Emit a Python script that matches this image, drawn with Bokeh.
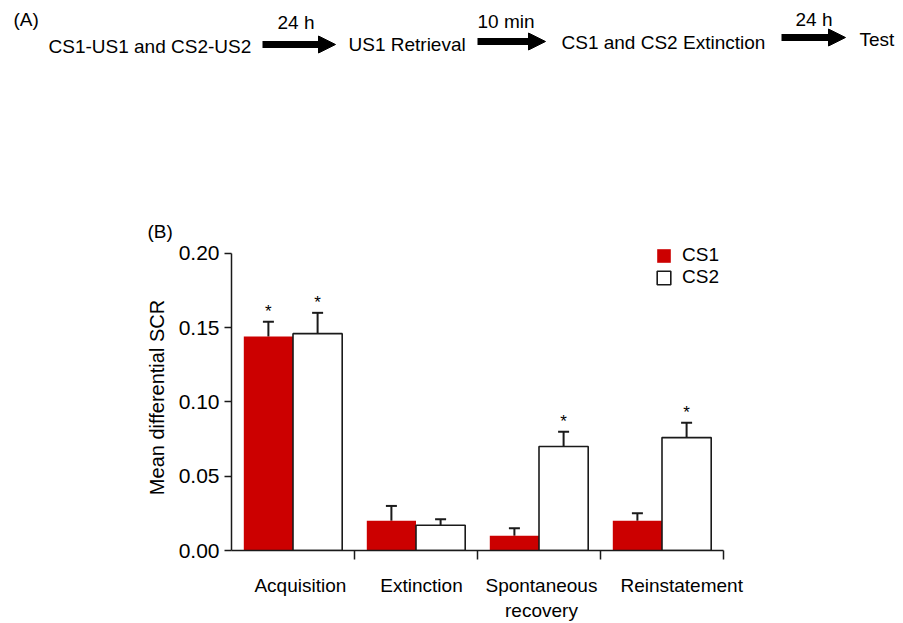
from bokeh.plotting import figure
from bokeh.models import (Range1d, FixedTicker, NumeralTickFormatter, Whisker, TeeHead,
                          ColumnDataSource, Arrow, NormalHead, Legend, LegendItem)
from bokeh.layouts import column
from bokeh.core.properties import value
from bokeh.embed import file_html
from bokeh.resources import INLINE

# ---------------- data ----------------
steps = ["CS1-US1 and CS2-US2", "US1 Retrieval", "CS1 and CS2 Extinction", "Test"]
intervals = ["24 h", "10 min", "24 h"]

categories = ["Acquisition", "Extinction", "Spontaneous\nrecovery", "Reinstatement"]
cs1_mean = [0.144, 0.020, 0.010, 0.020]
cs1_sem = [0.010, 0.010, 0.005, 0.005]
cs2_mean = [0.146, 0.017, 0.070, 0.076]
cs2_sem = [0.014, 0.004, 0.010, 0.010]
cs1_sig = [True, False, False, False]
cs2_sig = [True, False, True, True]
y_ticks = [0.0, 0.05, 0.10, 0.15, 0.20]

FONT = "Liberation Sans"
RED = "#CC0000"
INK = "#1a1a1a"

W = 900
HA = 242
HTOT = 623

# ---------------- panel A (flow diagram, pixel layout) ----------------
pa = figure(width=W, height=HA, output_backend="svg", toolbar_location=None,
            x_range=Range1d(0, W), y_range=Range1d(HA, 0),
            x_axis_location=None, y_axis_location=None, min_border=0,
            outline_line_color=None)
pa.grid.visible = False
pa.frame_align = False

step_x = [48, 348, 561, 859]
step_y = [46, 44, 42, 39]
pa.text(x=step_x, y=step_y, text=steps, text_font=value(FONT), text_font_size="19px",
        text_baseline="middle", text_align="left", text_color="black")

arrow_x0 = [262, 477, 781]
arrow_x1 = [335, 545, 845]
arrow_y = [44, 41, 37]
for x0, x1, yy in zip(arrow_x0, arrow_x1, arrow_y):
    pa.add_layout(Arrow(end=NormalHead(size=17, fill_color="black", line_color="black", line_width=1),
                        x_start=x0, y_start=yy, x_end=x1, y_end=yy,
                        line_width=7, line_color="black"))

int_x = [277, 477, 795]
int_y = [22, 21, 19]
pa.text(x=int_x, y=int_y, text=intervals, text_font=value(FONT), text_font_size="19px",
        text_baseline="middle", text_align="left", text_color="black")

pa.text(x=[13, 147], y=[19, 231], text=["(A)", "(B)"], text_font=value(FONT),
        text_font_size="19px", text_baseline="middle", text_align="left", text_color="black")

# ---------------- panel B (bar chart) ----------------
n = len(categories)
Y_TOP = 0.206          # a little head-room above the 0.20 tick for the legend
FRAME_TOP, FRAME_BOTTOM = 244, 551
HB = HTOT - HA
pb = figure(width=W, height=HB, output_backend="svg", toolbar_location=None,
            x_range=Range1d(0, n), y_range=Range1d(0, Y_TOP),
            min_border_left=231, min_border_right=W - 231 - 492,
            min_border_top=FRAME_TOP - HA, min_border_bottom=HTOT - FRAME_BOTTOM,
            outline_line_color=None, background_fill_color="white")
pb.grid.visible = False
pb.frame_align = False

x1 = [i + 0.3 for i in range(n)]
x2 = [i + 0.7 for i in range(n)]
src1 = ColumnDataSource(dict(x=x1, top=cs1_mean, upper=[m + s for m, s in zip(cs1_mean, cs1_sem)]))
src2 = ColumnDataSource(dict(x=x2, top=cs2_mean, upper=[m + s for m, s in zip(cs2_mean, cs2_sem)]))

r1 = pb.vbar(x="x", top="top", bottom=0, width=0.4, source=src1,
             fill_color=RED, line_color=None)
r2 = pb.vbar(x="x", top="top", bottom=0, width=0.4, source=src2,
             fill_color="white", line_color=INK, line_width=1.6)

for src in (src1, src2):
    pb.add_layout(Whisker(source=src, base="x", lower="top", upper="upper", dimension="height",
                          line_color=INK, line_width=2,
                          upper_head=TeeHead(size=11, line_color=INK, line_width=2),
                          lower_head=None))

stx = [x for x, s in zip(x1, cs1_sig) if s] + [x for x, s in zip(x2, cs2_sig) if s]
sty = ([m + e for m, e, s in zip(cs1_mean, cs1_sem, cs1_sig) if s] +
       [m + e for m, e, s in zip(cs2_mean, cs2_sem, cs2_sig) if s])
pb.text(x=stx, y=sty, text=["*"] * len(stx), text_font=value(FONT), text_font_size="17px",
        text_align="center", text_baseline="bottom", y_offset=-1, text_color="black")

# y axis
ya = pb.yaxis[0]
ya.ticker = FixedTicker(ticks=y_ticks)
ya.bounds = (0, 0.20)
ya.formatter = NumeralTickFormatter(format="0.00")
ya.major_tick_out = 7
ya.major_tick_in = 0
ya.minor_tick_line_color = None
ya.major_label_standoff = 5
ya.axis_line_width = 1.5
ya.axis_line_color = INK
ya.major_tick_line_width = 1.5
ya.major_tick_line_color = INK
ya.major_label_text_font = FONT
ya.major_label_text_font_size = "21px"
ya.major_label_text_color = "black"
ya.axis_label = "Mean differential SCR"
ya.axis_label_text_font = FONT
ya.axis_label_text_font_size = "20px"
ya.axis_label_text_font_style = "normal"
ya.axis_label_text_color = "black"
ya.axis_label_standoff = 8

# x axis
label_pos = [0.56, 1.545, 2.52, 3.66]
xa = pb.xaxis[0]
xa.ticker = FixedTicker(ticks=label_pos, minor_ticks=list(range(1, n + 1)))
xa.major_label_overrides = {q: c for q, c in zip(label_pos, categories)}
xa.major_tick_line_color = None
xa.major_tick_out = 0
xa.major_tick_in = 0
xa.minor_tick_out = 9
xa.minor_tick_in = 0
xa.minor_tick_line_width = 1.5
xa.minor_tick_line_color = INK
xa.axis_line_width = 1.5
xa.axis_line_color = INK
xa.major_label_standoff = 15
xa.major_label_text_font = FONT
xa.major_label_text_font_size = "19px"
xa.major_label_text_color = "black"

legend = Legend(items=[LegendItem(label="CS1", renderers=[r1]),
                       LegendItem(label="CS2", renderers=[r2])],
                location=(424, 262), orientation="vertical",
                glyph_width=17, glyph_height=17, label_height=17, spacing=0,
                label_standoff=10, padding=0, margin=0,
                border_line_color=None, background_fill_alpha=0,
                label_text_font=FONT, label_text_font_size="19px", label_text_color="black")
pb.add_layout(legend)

layout = column(pa, pb, spacing=0)
open("out.html", "w").write(file_html(layout, INLINE))
